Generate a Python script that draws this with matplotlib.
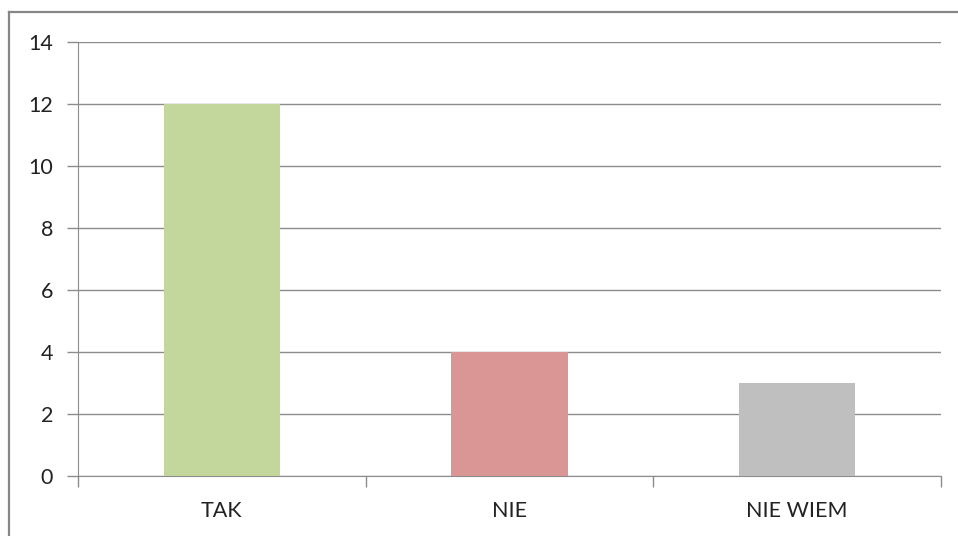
import matplotlib
matplotlib.use("Agg")
import matplotlib.pyplot as plt
from matplotlib.lines import Line2D

# Dane
categories = ["TAK", "NIE", "NIE WIEM"]
values = [12, 4, 3]
colors = ["#C3D69B", "#D99694", "#BFBFBF"]
yticks = [0, 2, 4, 6, 8, 10, 12, 14]

plt.rcParams['font.family'] = ['Lato', 'DejaVu Sans']

W, H = 958, 536
fig = plt.figure(figsize=(W / 100, H / 100), dpi=100)
ax = fig.add_axes([78 / W, 1 - 476 / H, (941 - 78) / W, (476 - 42) / H])

x = list(range(len(categories)))
ax.bar(x, values, width=0.405, color=colors, zorder=3)

ax.set_xlim(-0.5, len(categories) - 0.5)
ax.set_ylim(0, 14)
ax.set_yticks(yticks)
ax.set_yticklabels([str(v) for v in yticks], fontsize=15.5, color="#222222")
ax.yaxis.grid(True, color="#8C8C8C", linewidth=1.0, zorder=0)

# kategorie pod słupkami, znaczniki na granicach
ax.set_xticks([i - 0.5 for i in range(len(categories) + 1)])
ax.set_xticklabels([])
ax.set_xticks(x, minor=True)
ax.set_xticklabels(categories, minor=True, fontsize=15.5, color="#222222")
ax.tick_params(axis='x', which='minor', length=0, pad=18)
ax.tick_params(axis='x', which='major', length=8, color="#8C8C8C", width=1)
ax.tick_params(axis='y', length=8, color="#8C8C8C", width=1, pad=10)

for s in ["top", "right"]:
    ax.spines[s].set_visible(False)
ax.spines["left"].set_color("#8C8C8C")
ax.spines["bottom"].set_color("#8C8C8C")

# ramka wykresu (widoczna tylko góra i lewa strona)
fig.add_artist(Line2D([9 / W, 1], [1 - 12 / H, 1 - 12 / H], color="#878787", linewidth=1.6))
fig.add_artist(Line2D([9 / W, 9 / W], [0, 1 - 12 / H], color="#878787", linewidth=1.6))

fig.savefig("out.png", dpi=100, facecolor="white")
